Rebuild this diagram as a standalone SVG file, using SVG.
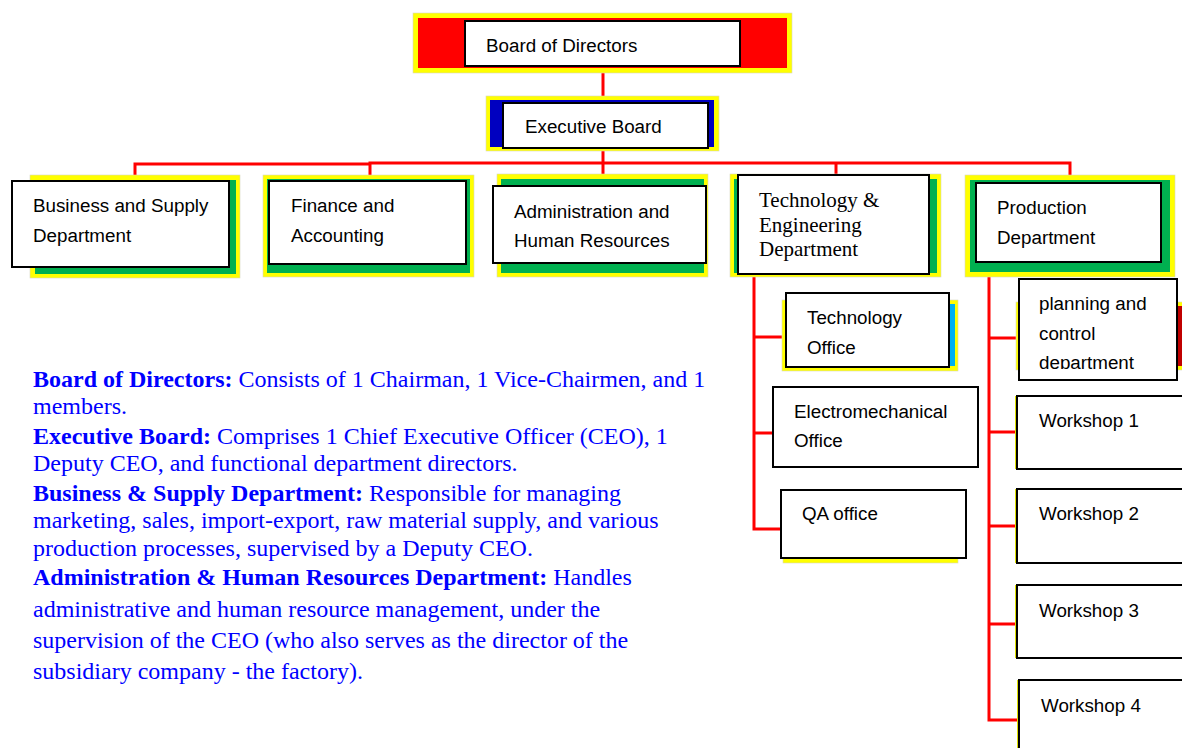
<svg xmlns="http://www.w3.org/2000/svg" width="1182" height="748" viewBox="0 0 1182 748">
<style>
.y{fill:#ffff00;stroke:#d8d8c0;stroke-width:0.6}
.g{fill:#00b050}
.w{fill:#ffffff;stroke:#000000;stroke-width:2}
.t{font-family:"Liberation Sans",Arial,sans-serif;font-size:18.8px;fill:#000000}
.tr{font-family:"Liberation Serif","Times New Roman",serif;font-size:21px;fill:#000000}
.c{fill:none;stroke:#ff0000;stroke-width:3}
.d{font-family:"Liberation Serif","Times New Roman",serif;font-size:24px;fill:#0000ff}
.b{font-weight:bold}
</style>
<defs>
<clipPath id="clipPlan"><rect x="1019" y="279" width="158" height="90"/></clipPath>
</defs>
<rect width="1182" height="748" fill="#ffffff"/>
<g id="connectors">
<line class="c" x1="603" y1="73" x2="603" y2="97"/>
<line class="c" x1="603" y1="151" x2="603" y2="176"/>
<polyline class="c" points="135,176 135,164 370,164"/>
<polyline class="c" points="370,176 370,163 1070,163 1070,176"/>
<line class="c" x1="836" y1="163" x2="836" y2="176"/>
<polyline class="c" points="754,275 754,529 781,529"/>
<line class="c" x1="754" y1="337" x2="786" y2="337"/>
<line class="c" x1="754" y1="433" x2="773" y2="433"/>
<polyline class="c" points="989,277 989,720 1019,720"/>
<line class="c" x1="989" y1="338" x2="1019" y2="338"/>
<line class="c" x1="989" y1="432" x2="1017" y2="432"/>
<line class="c" x1="989" y1="526" x2="1017" y2="526"/>
<line class="c" x1="989" y1="624" x2="1017" y2="624"/>
</g>
<g id="board">
<rect class="y" x="413" y="13" width="379" height="60"/>
<rect x="418" y="18" width="369" height="50" fill="#ff0000"/>
<rect class="w" x="465" y="21" width="275" height="45"/>
<text class="t" x="486" y="52">Board of Directors</text>
</g>
<g id="executive">
<rect class="y" x="486" y="96" width="233" height="55"/>
<rect x="490" y="100" width="224" height="47" fill="#0000c0"/>
<rect class="w" x="503" y="103" width="205" height="45"/>
<text class="t" x="525" y="133">Executive Board</text>
</g>
<g id="business">
<rect class="y" x="30" y="175" width="210" height="103"/>
<rect class="g" x="35" y="180" width="201" height="94"/>
<rect class="w" x="12" y="181" width="217" height="86"/>
<text class="t" x="33" y="212">Business and Supply</text>
<text class="t" x="33" y="242">Department</text>
</g>
<g id="finance">
<rect class="y" x="263" y="175" width="211" height="102"/>
<rect class="g" x="267" y="179" width="203" height="94"/>
<rect class="w" x="269" y="181" width="197" height="83"/>
<text class="t" x="291" y="212">Finance and</text>
<text class="t" x="291" y="242">Accounting</text>
</g>
<g id="admin">
<rect class="y" x="497" y="174" width="211" height="103"/>
<rect class="g" x="501" y="179" width="203" height="94"/>
<rect class="w" x="493" y="186" width="213" height="77"/>
<text class="t" x="514" y="218">Administration and</text>
<text class="t" x="514" y="247">Human Resources</text>
</g>
<g id="technology">
<rect class="y" x="730" y="174" width="211" height="103"/>
<rect class="g" x="734" y="179" width="203" height="94"/>
<rect class="w" x="738" y="175" width="191" height="99"/>
<text class="tr" x="759" y="207">Technology &amp;</text>
<text class="tr" x="759" y="232">Engineering</text>
<text class="tr" x="759" y="256">Department</text>
</g>
<g id="production">
<rect class="y" x="965" y="175" width="210" height="102"/>
<rect class="g" x="970" y="180" width="200" height="92"/>
<rect class="w" x="976" y="183" width="185" height="79"/>
<text class="t" x="997" y="214">Production</text>
<text class="t" x="997" y="244">Department</text>
</g>
<g id="tech-office">
<rect class="y" x="782" y="300" width="176" height="71"/>
<rect x="787" y="304" width="168" height="62" fill="#00b0f0"/>
<rect class="w" x="786" y="293" width="163" height="74"/>
<text class="t" x="807" y="324">Technology</text>
<text class="t" x="807" y="354">Office</text>
</g>
<g id="electro-office">
<rect class="w" x="773" y="387" width="205" height="80"/>
<text class="t" x="794" y="418">Electromechanical</text>
<text class="t" x="794" y="447">Office</text>
</g>
<g id="qa-office">
<rect class="y" x="783" y="495" width="175" height="68"/>
<rect class="w" x="781" y="490" width="185" height="68"/>
<text class="t" x="802" y="520">QA office</text>
</g>
<g id="planning">
<rect class="y" x="1016" y="302" width="170" height="68"/>
<rect x="1021" y="306" width="165" height="60" fill="#c00000"/>
<rect class="w" x="1019" y="279" width="158" height="101"/>
<g clip-path="url(#clipPlan)">
<text class="t" x="1039" y="310">planning and</text>
<text class="t" x="1039" y="340">control</text>
<text class="t" x="1039" y="369">department</text>
</g>
</g>
<g id="workshop1">
<rect x="1015" y="396" width="3" height="73" fill="#e0e000"/>
<rect class="w" x="1017" y="396" width="180" height="73"/>
<text class="t" x="1039" y="427">Workshop 1</text>
</g>
<g id="workshop2">
<rect x="1015" y="489" width="3" height="74" fill="#e0e000"/>
<rect class="w" x="1017" y="489" width="180" height="74"/>
<text class="t" x="1039" y="520">Workshop 2</text>
</g>
<g id="workshop3">
<rect x="1015" y="585" width="3" height="73" fill="#e0e000"/>
<rect class="w" x="1017" y="585" width="180" height="73"/>
<text class="t" x="1039" y="617">Workshop 3</text>
</g>
<g id="workshop4">
<rect x="1017" y="680" width="3" height="80" fill="#e0e000"/>
<rect class="w" x="1019" y="680" width="180" height="80"/>
<text class="t" x="1041" y="712">Workshop 4</text>
</g>
<g id="description">
<text class="d" x="33" y="387"><tspan class="b">Board of Directors:</tspan> Consists of 1 Chairman, 1 Vice-Chairmen, and 1</text>
<text class="d" x="33" y="414">members.</text>
<text class="d" x="33" y="444"><tspan class="b">Executive Board:</tspan> Comprises 1 Chief Executive Officer (CEO), 1</text>
<text class="d" x="33" y="471">Deputy CEO, and functional department directors.</text>
<text class="d" x="33" y="501"><tspan class="b">Business &amp; Supply Department:</tspan> Responsible for managing</text>
<text class="d" x="33" y="528">marketing, sales, import-export, raw material supply, and various</text>
<text class="d" x="33" y="556">production processes, supervised by a Deputy CEO.</text>
<text class="d" x="33" y="585"><tspan class="b">Administration &amp; Human Resources Department:</tspan> Handles</text>
<text class="d" x="33" y="617">administrative and human resource management, under the</text>
<text class="d" x="33" y="648">supervision of the CEO (who also serves as the director of the</text>
<text class="d" x="33" y="679">subsidiary company - the factory).</text>
</g>
</svg>
